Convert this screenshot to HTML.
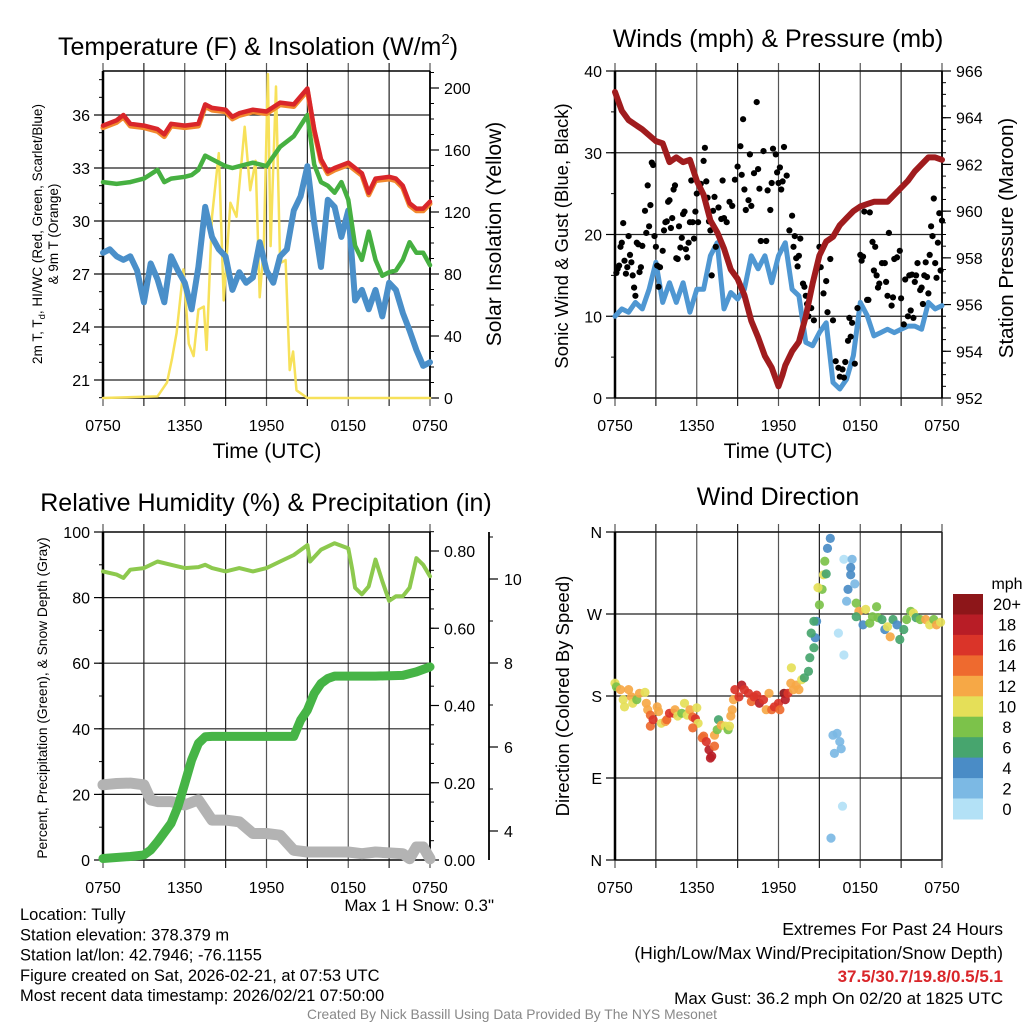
<!DOCTYPE html>
<html><head><meta charset="utf-8">
<style>
html,body{margin:0;padding:0;background:#fff;}
svg{display:block;font-family:"Liberation Sans",sans-serif;}
</style></head>
<body>
<svg id="fig" width="1024" height="1024" viewBox="0 0 1024 1024" xmlns="http://www.w3.org/2000/svg"></svg>
<script>
// ---------- Data ----------
const xTickLabels = ["0750","1350","1950","0150","0750"];
const tempTicks = [21,24,27,30,33,36];
const solarTicks = [0,40,80,120,160,200];
const windTicks = [0,10,20,30,40];
const presTicks = [952,954,956,958,960,962,964,966];
const rhTicks = [0,20,40,60,80,100];
const precipTicks = [0.00,0.20,0.40,0.60,0.80];
const snowTicks = [4,6,8,10];
const dirTicks = [0,90,180,270,360];
const dirLabels = ["N","E","S","W","N"];
const speedBins = ["0","2","4","6","8","10","12","14","16","18","20+"];
const speedColors = ["#b3e1f6","#7cb9e4","#4a8cc6","#47a56e","#7cc24a","#e5df58","#f6a846","#ee6a2f","#da3429","#b81d26","#8d1619"];

const redHours = [0,1,1.5,2,3,4,4.5,5,6,7,7.5,8,9,9.5,10,11,12,13,14,15,15.5,16,16.5,17,18,18.5,19,19.5,20,21,21.5,22,22.5,23,23.5,24];
const redTemp  = [35.4,35.7,36.0,35.5,35.4,35.2,34.9,35.5,35.4,35.5,36.6,36.4,36.3,35.9,36.1,36.3,36.2,36.7,36.6,37.5,35.2,33.5,32.8,33.0,33.3,33.0,32.7,31.6,32.4,32.5,32.4,32.0,31.0,30.7,30.7,31.1];
const greenHours = [0,1,2,3,4,4.5,5,6,6.5,7,7.5,8,9,9.5,10,11,12,13,14,15,15.5,16,16.5,17,17.5,18,18.5,19,19.5,20,20.5,21,21.5,22,22.5,23,23.5,24];
const greenTemp  = [32.2,32.1,32.2,32.4,32.9,32.2,32.4,32.5,32.6,32.9,33.7,33.5,33.1,33.0,33.1,33.3,33.1,34.2,34.8,36.0,33.2,32.2,32.0,31.6,32.2,31.2,28.6,27.8,29.4,27.8,26.9,27.1,27.2,27.8,28.8,28.2,28.2,27.5];
const blueHours = [0,0.5,1,1.5,2,2.5,3,3.5,4,4.5,5,5.5,6,6.5,7,7.5,8,8.5,9,9.5,10,10.5,11,11.5,12,12.5,13,13.5,14,14.5,15,15.5,16,16.5,17,17.5,18,18.5,19,19.5,20,20.5,21,21.5,22,22.5,23,23.5,24];
const blueTemp  = [28.2,28.4,28.0,27.8,28.0,27.2,25.4,27.6,26.7,25.4,28.0,27.2,26.5,25.0,27.4,30.8,29.1,28.4,28.0,26.1,27.1,26.5,26.8,28.8,27.2,26.5,28.0,28.4,30.6,31.4,33.1,29.9,27.4,31.2,30.8,29.1,30.6,25.5,26.1,25.0,26.1,24.6,26.5,26.1,24.8,23.8,22.7,21.8,22.0];
const solarHours = [0,4.0,4.7,5.06,5.4,5.9,6.3,6.65,7.0,7.4,7.6,8.0,8.5,8.86,9.35,9.8,10.4,10.8,11.2,11.5,11.8,12.1,12.3,12.7,13.0,13.4,13.7,13.95,14.2,15,24];
const solarWm2   = [0,1,10,25,42,83,35,27,57,59,31,117,158,63,126,117,175,134,153,65,98,209,98,201,87,89,18,30,5,0,0];

const presHours = [0,0.5,1,2,3,3.5,4,4.5,5,5.5,6,6.5,7,7.5,8,8.5,9,9.5,10,10.5,11,11.5,12,12.3,12.5,13,13.5,14,14.5,15,15.5,16,16.5,17,17.5,18,18.5,19,19.5,20,20.5,21,21.5,22,22.5,23,23.5,24];
const presMb    = [965.1,964.3,963.9,963.5,963.0,962.9,962.1,962.3,962.1,962.2,961.3,960.7,959.6,959.1,958.4,957.5,957.1,956.4,955.3,954.6,953.8,953.3,952.5,953.0,953.4,954.0,954.4,955.5,956.9,958.1,958.7,958.9,959.4,959.7,960.0,960.2,960.3,960.4,960.4,960.4,960.7,961.0,961.3,961.7,962.0,962.3,962.3,962.2];
const windHours = [0,0.5,1,1.5,2,2.5,3,3.5,4,4.5,5,5.5,6,6.5,7,7.5,8,8.5,9,9.5,10,10.5,11,11.5,12,12.5,13,13.5,14,14.5,15,15.5,16,16.5,17,17.5,18,18.5,19,19.5,20,20.5,21,21.5,22,22.5,23,23.5,24];
const windMph   = [10,10.9,10.5,11.7,10.9,13.3,16.6,11.7,14.1,11.7,14.1,10.5,13.3,13.3,17.4,19.0,10.9,12.9,12.1,13.3,17.4,15.8,17.4,14.1,17.4,19.0,13.3,12.5,6.8,6.4,8.0,9.2,1.9,1.1,2.3,5.2,11.7,10.1,7.6,8.0,8.4,8.0,8.4,8.8,8.8,8.4,11.7,10.9,11.3];
const gustHours = [0.1,0.2,0.3,0.4,0.5,0.6,0.7,0.8,0.9,1.0,1.1,1.2,1.3,1.4,1.5,1.6,1.7,1.8,1.9,2.0,2.2,2.3,2.4,2.5,2.6,2.7,2.8,2.9,3.0,3.1,3.2,3.3,3.5,3.6,3.7,3.8,3.9,4.0,4.1,4.2,4.3,4.4,4.5,4.6,4.7,4.8,4.9,5.0,5.1,5.2,5.3,5.4,5.5,5.6,5.7,5.8,5.9,6.0,6.1,6.2,6.3,6.5,6.6,6.7,6.8,6.9,7.0,7.1,7.2,7.3,7.4,7.6,7.8,7.9,8.0,8.2,8.4,8.6,8.8,9.0,9.2,9.3,9.4,9.5,9.6,9.8,9.9,10.0,10.2,10.4,10.5,10.6,10.7,10.9,11.1,11.2,11.4,11.5,11.6,11.8,11.9,12.0,12.1,12.2,12.3,12.4,12.6,12.8,13.0,13.1,13.2,13.3,13.4,13.5,13.6,13.8,13.9,14.0,14.1,14.2,14.4,14.6,14.8,15.0,15.1,15.3,15.5,15.6,15.8,16.0,16.2,16.4,16.5,16.7,16.8,16.9,17.1,17.2,17.3,17.4,17.6,17.8,18.0,18.1,18.2,18.3,18.5,18.6,18.7,18.9,19.0,19.1,19.2,19.3,19.4,19.6,19.8,19.9,20.0,20.1,20.3,20.4,20.5,20.7,20.9,21.0,21.2,21.3,21.5,21.6,21.7,21.8,21.9,22.0,22.1,22.2,22.4,22.5,22.6,22.7,22.8,22.9,23.0,23.1,23.2,23.3,23.4,23.5,23.6,23.7,23.8,23.9,24.0];
const gustMph   = [15.3,15.8,16.2,18.5,19,21.4,16.8,15.2,16,19.8,17.5,16.6,15,13.5,12.5,19,18.8,15.4,16,18.6,22.9,20.2,26,21,23.6,28.8,28.5,19.8,18.5,16.2,13.6,16,18,20.5,21.5,21.6,24,24.2,20.8,22,25.5,26,17.1,17,21,18.4,19.6,22.5,22.8,18.2,17.2,19,21.5,26.6,21.5,19.5,22.8,25,21.5,26,26.2,29,30.6,26.5,24.5,21.6,20.5,15,22.9,24.6,18.5,23.3,21.9,26.6,22,21.5,24,23.5,26.7,28.3,30.8,27.3,34.1,25.5,23,24.2,29.8,23.5,27.5,36.2,28,25.6,19.2,30.2,19.2,25.4,23,26.3,30.5,29.8,27.6,26.3,28.2,25.5,26.5,30.7,27.2,20.5,22.3,18.5,19.8,17.1,16.1,17.4,19.5,14,13.6,12.5,11.5,10,11,9.5,15.8,18.5,16,12.8,14.3,10.5,17,9.5,4.5,3.7,2.6,3.5,2.5,4.4,7,9.8,7.5,9.2,4.2,11,17.5,16.8,17.3,22.8,12,12,22.7,19.1,15.6,18.5,15,13.5,14,16.5,16.5,14.2,12.5,20.2,11.3,12.3,17,17.2,18,12.2,9,14.5,10,15,10.7,15.1,9.8,14.2,15,16.5,13.2,13.5,11.5,15,16.6,14.8,12.8,17.5,21,19.8,24.4,16.5,14.7,19,22.6,15.6,21.7];

const rhHours = [0,1,1.5,2,3,4,5,6,7,7.5,8,9,10,11,12,13,14,15,15.2,16,17,18,18.3,18.5,19,19.5,20,20.5,21,21.5,22,22.5,23,23.5,24];
const rhPct   = [88,87,86,88.5,89,91,90,89,89.3,90,89,88,89,88,89,91,93,96,91,94.6,96.6,95,88.5,83,81,83.4,91.6,85,79,80.4,80.4,83,92,90,86.5];
const precipHours = [0,2,3,3.5,4,5,5.5,6,6.5,7,7.5,8,14,14.5,15,15.5,16,16.5,17,20,22,23,24];
const precipIn    = [0.004,0.009,0.013,0.026,0.047,0.095,0.138,0.198,0.259,0.302,0.319,0.32,0.32,0.362,0.388,0.431,0.457,0.47,0.476,0.476,0.478,0.487,0.5];
const snowHours = [0,1,2,3,3.5,4,5,6,7,7.5,8,9,10,11,12,13,14,15,18,19,20,22,22.5,23,23.5,24];
const snowIn    = [5.1,5.13,5.14,5.1,4.74,4.7,4.7,4.62,4.74,4.5,4.26,4.26,4.22,3.94,3.94,3.9,3.54,3.5,3.5,3.46,3.5,3.46,3.34,3.62,3.62,3.34];

const dirHours = [0,0.1,0.4,0.6,0.7,1.0,1.2,1.3,1.6,1.8,2.2,2.3,2.4,2.6,2.6,2.8,3.1,3.2,3.4,3.7,3.8,4.0,4.3,4.4,4.6,4.9,5.1,5.3,5.5,5.7,5.9,6.0,6.1,5.7,6.4,6.5,6.7,6.9,7.0,7.1,7.3,7.3,7.5,7.6,7.8,8.1,8.3,8.4,8.5,8.6,8.7,8.8,9.1,9.3,9.5,9.8,10.0,10.2,10.4,10.6,10.9,11.1,11.3,11.5,11.7,12.0,12.1,12.4,12.5,12.7,12.9,13.1,13.3,13.5,13.7,13.9,14.2,12.95,14.3,14.6,14.7,14.4,14.8,14.6,15.0,15.2,14.9,15.3,15.5,15.4,15.6,15.8,16.8,17.4,17.3,17.3,17.1,17.0,17.6,16.4,16.8,16.0,16.3,16.5,16.6,16.1,16.7,15.85,17.7,17.9,17.7,18.2,18.4,18.7,18.9,19.2,19.3,19.6,19.8,20.0,20.2,20.4,20.7,20.9,21.2,21.4,21.7,21.9,22.1,22.4,22.8,23.1,23.4,23.6,23.9];
const dirDeg   = [194,190,187,176,168,187,179,172,176,183,184,172,165,159,147,154,168,163,150,152,154,161,161,165,158,161,172,159,165,157,155,167,150,145,134,136,130,121,112,114,125,137,143,154,148,147,143,147,158,165,176,187,179,192,187,183,174,179,181,172,176,165,183,165,168,172,165,183,176,183,194,187,192,187,198,200,207,211,222,233,244,249,262,262,280,297,299,313,314,328,342,353,330,330,321,313,297,284,303,249,225,137,139,130,122,117,59,24,282,273,267,258,275,260,267,278,266,264,253,256,245,264,258,242,253,264,273,271,266,264,264,258,264,258,261];
const dirSpeed = [10,8,12,10,10,12,12,10,8,12,10,12,12,14,14,16,12,12,10,12,14,16,16,12,10,8,10,10,12,14,16,10,10,14,14,14,16,18,18,18,14,12,8,6,12,10,8,10,12,12,12,16,16,18,16,16,14,16,16,18,16,12,12,14,16,16,14,20,18,16,12,12,12,12,10,6,6,10,6,6,4,6,4,6,8,8,10,10,6,8,4,4,0,2,4,4,4,2,2,0,0,2,2,2,2,2,0,2,8,12,6,4,10,8,8,8,8,6,4,10,12,6,4,6,6,8,8,10,6,8,12,10,8,12,10];

// ---------- Helpers ----------
const NS = "http://www.w3.org/2000/svg";
const svg = document.getElementById("fig");
const TICK_FS = 16;
function mk(tag, attrs, parent){
  const el = document.createElementNS(NS, tag);
  for (const k in attrs) el.setAttribute(k, attrs[k]);
  (parent || svg).appendChild(el);
  return el;
}
function txt(s, x, y, size, anchor, name, extra){
  const el = mk("text", Object.assign({x:x, y:y, "font-size":size, "text-anchor":anchor||"middle", fill:"#000"}, extra||{}));
  el.textContent = s;
  
  
  return el;
}
function ln(x1,y1,x2,y2,stroke,w,name){
  const el = mk("line",{x1:x1,y1:y1,x2:x2,y2:y2,stroke:stroke,"stroke-width":w});
  
  
  return el;
}
function lin(d0,d1,r0,r1){ return v => r0 + (v-d0)/(d1-d0)*(r1-r0); }
function path(xs, ys, sx, sy, stroke, w, name){
  let d = "";
  for (let i=0;i<xs.length;i++) d += (i?"L":"M") + sx(xs[i]).toFixed(1) + "," + sy(ys[i]).toFixed(1);
  const el = mk("path",{d:d, fill:"none", stroke:stroke, "stroke-width":w, "stroke-linejoin":"round", "stroke-linecap":"round"});
  
  
  return el;
}

function panelFrame(p, name){
  const sx = lin(0,24,p.x0,p.x1);
  for (let h=0; h<=24; h+=3){
    const x = sx(h);
    ln(x, p.y0-8, x, p.y1+8, (h%6===0)?"#555":"#222", 1.2, name+"-x-grid");
  }
  for (let i=0;i<xTickLabels.length;i++){
    txt(xTickLabels[i], sx(i*6), p.y1+33, TICK_FS, "middle", name+"-x-tick-label");
  }
  ln(p.x0, p.y0, p.x1, p.y0, "#000", 1.5, name+"-top-border");
  ln(p.x0, p.y1, p.x1, p.y1, "#000", 1.5, name+"-bottom-border");
  return sx;
}
function leftAxis(p, sy, ticks, labels, minorStep, lo, hi, grid, name){
  for (let v=lo; v<=hi+1e-9; v+=minorStep){
    const y = sy(v); ln(p.x0-4, y, p.x0, y, "#000", 1, name+"-minor-tick");
  }
  ticks.forEach((v,i)=>{
    const y = sy(v);
    ln(p.x0-9, y, p.x0, y, "#000", 1.2, name+"-major-tick");
    if (grid) ln(p.x0, y, p.x1, y, "#222", 1.2, name+"-y-grid");
    txt(labels? labels[i] : String(v), p.x0-13, y+6, TICK_FS, "end", name+"-tick-label");
  });
  ln(p.x0, p.y0, p.x0, p.y1, "#000", 2.5, name+"-axis-line");
}
function rightAxis(p, sy, ticks, fmt, minorStep, lo, hi, name){
  for (let v=lo; v<=hi+1e-9; v+=minorStep){
    const y = sy(v); ln(p.x1, y, p.x1+4, y, "#000", 1, name+"-minor-tick");
  }
  ticks.forEach(v=>{
    const y = sy(v);
    ln(p.x1, y, p.x1+9, y, "#000", 1.2, name+"-major-tick");
    txt(fmt(v), p.x1+14, y+6, TICK_FS, "start", name+"-tick-label");
  });
  ln(p.x1, p.y0, p.x1, p.y1, "#000", 1.8, name+"-axis-line");
}
function vtitle(s, x, y, size, name){
  return txt(s, x, y, size, "middle", name, {transform:"rotate(-90 "+x+" "+y+")"});
}

// ---------- Panel 1: Temperature ----------
(function(){
  const p = {x0:103, x1:430, y0:71, y1:398};
  const sx = panelFrame(p, "temp-panel");
  const sy = lin(21,36,380,115);
  const sr = lin(0,200,398,88);
  leftAxis(p, sy, tempTicks, null, 1, 20, 38, true, "temp-y-axis");
  rightAxis(p, sr, solarTicks, v=>String(v), 10, 0, 210, "solar-y-axis");
  path(solarHours, solarWm2, sx, sr, "#f7e15a", 2.5, "solar-insolation-line");
  path(blueHours, blueTemp, sx, sy, "#4a8fc9", 6, "windchill-line");
  path(greenHours, greenTemp, sx, sy, "#46b041", 4.5, "dewpoint-line");
  path(redHours, redTemp.map(v=>v-0.12), sx, sy, "#f2892e", 5, "temp-9m-line");
  path(redHours, redTemp, sx, sy, "#d9262a", 4.5, "temp-2m-line");
  const t = txt("Temperature (F) & Insolation (W/m", 258, 55, 25, "middle", "temp-panel-title");
  const sup = mk("tspan",{"font-size":15, dy:-11}, t); sup.textContent="2";
  
  const cl = mk("tspan",{dy:11}, t); cl.textContent=")";
  
  txt("Time (UTC)", 267, 458, 21, "middle", "temp-x-axis-title");
  const yt = vtitle("", 42, 234, 13.5, "temp-y-axis-title");
  const a = mk("tspan",{},yt); a.textContent="2m T, T"; 
  const b = mk("tspan",{"font-size":9.5, dy:3},yt); b.textContent="d"; 
  const c = mk("tspan",{dy:-3},yt); c.textContent=", HI/WC (Red, Green, Scarlet/Blue)"; 
  vtitle("& 9m T (Orange)", 58, 234, 13.5, "temp-y-axis-title-line2");
  vtitle("Solar Insolation (Yellow)", 501, 234, 21, "solar-y-axis-title");
})();

// ---------- Panel 2: Winds ----------
(function(){
  const p = {x0:615, x1:942, y0:71, y1:398};
  const sx = panelFrame(p, "wind-panel");
  const sy = lin(0,40,398,71);
  const sr = lin(952,966,398,71);
  leftAxis(p, sy, windTicks, null, 5, 0, 40, true, "wind-y-axis");
  rightAxis(p, sr, presTicks, v=>String(v), 0.5, 952, 966, "pressure-y-axis");
  path(windHours, windMph, sx, sy, "#4f97d2", 5, "sustained-wind-line");
  for (let i=0;i<gustHours.length;i++){
    const c = mk("circle",{cx:sx(gustHours[i]).toFixed(1), cy:sy(gustMph[i]).toFixed(1), r:3.1, fill:"#000"});
    
    
  }
  path(presHours, presMb, sx, sr, "#a01c1e", 6, "pressure-line");
  txt("Winds (mph) & Pressure (mb)", 778, 47, 25, "middle", "wind-panel-title");
  txt("Time (UTC)", 778, 458, 21, "middle", "wind-x-axis-title");
  vtitle("Sonic Wind & Gust (Blue, Black)", 568, 236, 18.5, "wind-y-axis-title");
  vtitle("Station Pressure (Maroon)", 1013, 238, 20.5, "pressure-y-axis-title");
})();

// ---------- Panel 3: RH & Precip ----------
(function(){
  const p = {x0:103, x1:430, y0:532, y1:860};
  const sx = panelFrame(p, "rh-panel");
  const sy = lin(0,100,860,532);
  const sr = lin(0,0.8,860,551);
  const ss = lin(4,6,831,747);
  leftAxis(p, sy, rhTicks, null, 10, 0, 100, true, "rh-y-axis");
  rightAxis(p, sr, precipTicks, v=>v.toFixed(2), 0.05, 0, 0.85, "precip-y-axis");
  ln(489, 532, 489, 860, "#000", 1.8, "snow-axis-line");
  for (let v=4; v<=11; v+=1){
    const y = ss(v); ln(489, y, 493, y, "#000", 1, "snow-minor-tick");
  }
  snowTicks.forEach(v=>{
    const y = ss(v); ln(489, y, 498, y, "#000", 1.2, "snow-major-tick");
    txt(String(v), 504, y+6, TICK_FS, "start", "snow-tick-label");
  });
  path(snowHours, snowIn, sx, ss, "#b3b3b3", 11, "snow-depth-line");
  path(precipHours, precipIn, sx, sr, "#46b446", 9, "precipitation-line");
  path(rhHours, rhPct, sx, sy, "#8dc94e", 4, "relative-humidity-line");
  txt("Relative Humidity (%) & Precipitation (in)", 266, 511, 25, "middle", "rh-panel-title");
  vtitle("Percent, Precipitation (Green), & Snow Depth (Gray)", 47, 698, 13.8, "rh-y-axis-title");
  txt("Max 1 H Snow: 0.3\"", 494, 911, 17, "end", "max-snow-text");
})();

// ---------- Panel 4: Wind Direction ----------
(function(){
  const p = {x0:615, x1:942, y0:532, y1:860};
  const sx = panelFrame(p, "dir-panel");
  const sy = lin(0,360,860,532);
  leftAxis(p, sy, dirTicks, dirLabels, 90, 0, 360, true, "dir-y-axis");
  ln(p.x1, p.y0, p.x1, p.y1, "#222", 1.5, "dir-right-border");
  for (let i=0;i<dirHours.length;i++){
    const bin = Math.min(10, Math.max(0, Math.round(dirSpeed[i]/2)));
    const c = mk("circle",{cx:sx(dirHours[i]).toFixed(1), cy:sy(dirDeg[i]).toFixed(1), r:4.6, fill:speedColors[bin], "fill-opacity":0.92});
    
    
  }
  const cb0 = 594, cbH = 225/11;
  for (let i=0;i<speedBins.length;i++){
    const idx = speedBins.length-1-i;
    const r = mk("rect",{x:953, y:(cb0+i*cbH).toFixed(1), width:30, height:(cbH+0.5).toFixed(1), fill:speedColors[idx]});
    
    
    txt(speedBins[idx], 1007, cb0+i*cbH+cbH/2+6, 16.5, "middle", "colorbar-label");
  }
  txt("mph", 1007, 589, 16, "middle", "colorbar-title");
  txt("Wind Direction", 778, 505, 25, "middle", "dir-panel-title");
  vtitle("Direction (Colored By Speed)", 569, 696, 18.5, "dir-y-axis-title");
})();

// ---------- Footer text ----------
const leftInfo = ["Location: Tully","Station elevation: 378.379 m","Station lat/lon: 42.7946; -76.1155","Figure created on Sat, 2026-02-21, at 07:53 UTC","Most recent data timestamp: 2026/02/21 07:50:00"];
leftInfo.forEach((s,i)=>txt(s, 20, 920+i*20.3, 16.5, "start", "station-info-line"));
txt("Extremes For Past 24 Hours", 1003, 935, 17.5, "end", "extremes-title");
txt("(High/Low/Max Wind/Precipitation/Snow Depth)", 1003, 959, 17.5, "end", "extremes-subtitle");
txt("37.5/30.7/19.8/0.5/5.1", 1003, 982, 17, "end", "extremes-values", {fill:"#d9262a","font-weight":"bold"});
txt("Max Gust: 36.2 mph On 02/20 at 1825 UTC", 1003, 1004, 17, "end", "max-gust-text");
txt("Created By Nick Bassill Using Data Provided By The NYS Mesonet", 512, 1019, 13.8, "middle", "credit-text", {fill:"#888"});
</script>
</body></html>
